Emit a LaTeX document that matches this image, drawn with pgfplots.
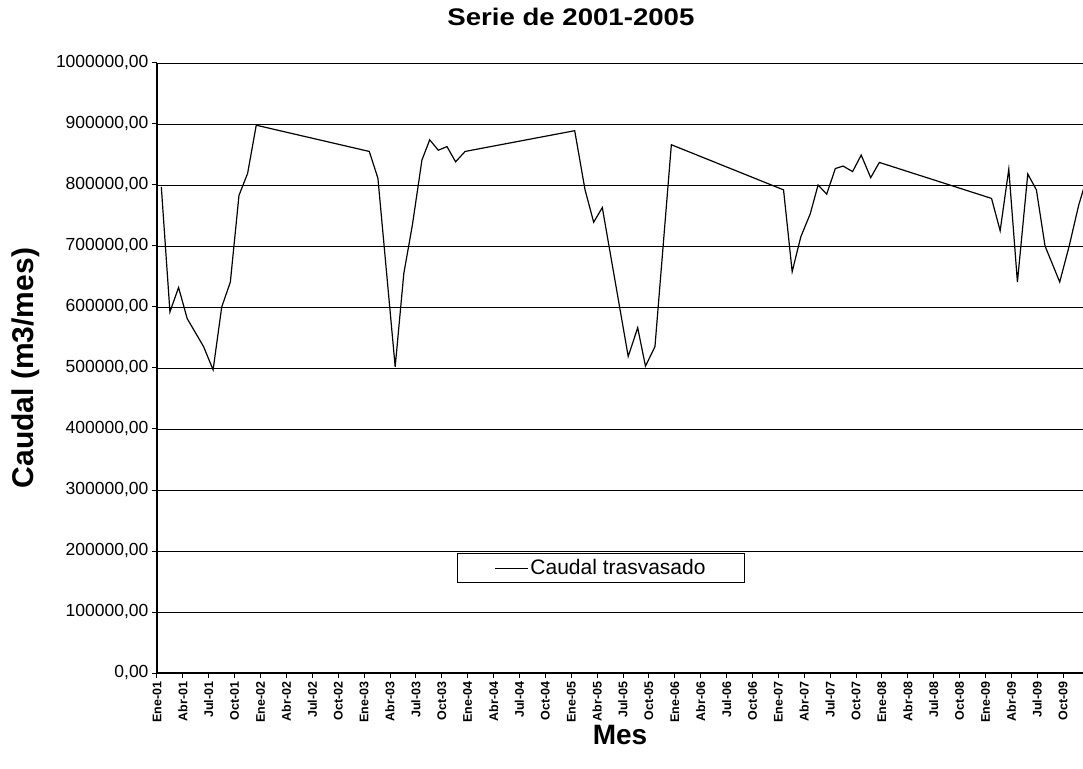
\documentclass[border=0pt]{standalone}
\usepackage{fontspec}
\setmainfont{Liberation Sans}
\usepackage{graphicx}
\usepackage{pgfplots}
\pgfplotsset{compat=1.18}
\begin{document}
\begin{tikzpicture}
\begin{axis}[
  name=ax,
  scale only axis,
  width=926pt, height=610pt,
  xmin=0, xmax=107.3,
  ymin=0, ymax=1000000,
  axis x line*=bottom, axis y line*=left,
  axis line style={black, line width=1.3pt},
  tick align=outside,
  major tick length=5pt,
  tick style={black, line width=1pt},
  xtick={0,3,...,105},
  xticklabels={Ene-01,Abr-01,Jul-01,Oct-01,Ene-02,Abr-02,Jul-02,Oct-02,Ene-03,Abr-03,Jul-03,Oct-03,Ene-04,Abr-04,Jul-04,Oct-04,Ene-05,Abr-05,Jul-05,Oct-05,Ene-06,Abr-06,Jul-06,Oct-06,Ene-07,Abr-07,Jul-07,Oct-07,Ene-08,Abr-08,Jul-08,Oct-08,Ene-09,Abr-09,Jul-09,Oct-09},
  xticklabel style={rotate=90, anchor=east, font=\fontsize{12.5}{14}\selectfont\bfseries},
  ytick={0,100000,...,1000000},
  yticklabels={{0,00},{100000,00},{200000,00},{300000,00},{400000,00},{500000,00},{600000,00},{700000,00},{800000,00},{900000,00},{1000000,00}},
  yticklabel style={font=\fontsize{17.5}{20}\selectfont},
  scaled y ticks=false,
  ymajorgrids,
  major grid style={black, line width=0.9pt},
  title={\scalebox{1.15}[1]{Serie de 2001-2005}},
  title style={at={(0.447,1)}, anchor=center, yshift=40pt, font=\fontsize{24}{28}\selectfont\bfseries},
  xlabel={Mes},
  xlabel style={at={(axis description cs:0.5,-0.1016)}, anchor=center, font=\fontsize{28}{32}\selectfont\bfseries},
  ylabel={Caudal (m3/mes)},
  ylabel style={at={(axis description cs:-0.1415,0.5)}, anchor=center, font=\fontsize{30}{34}\selectfont\bfseries},
  legend style={at={(0.4795,0.172)}, anchor=center, draw=black, line width=0.9pt, fill=white,
    font=\fontsize{21}{24}\selectfont, inner xsep=37pt, inner ysep=4pt},
  legend image code/.code={\draw[black, line width=0.9pt] (0pt,0pt) -- (33pt,0pt);},
]
\addplot[black, line width=1.2pt] coordinates {
(0.5,797000) (1.5,592000) (2.5,632000) (3.5,581000) (5.4,535000) (6.5,497000)
(7.5,600000) (8.5,641000) (9.5,783000) (10.5,819000) (11.5,898000)
(24.6,855000) (25.6,811000) (27.6,502000) (28.6,655000) (29.6,735000)
(30.7,841000) (31.6,874000) (32.6,857000) (33.6,863000) (34.6,838000) (35.7,855000)
(48.4,889000) (49.6,792000) (50.6,739000) (51.6,763000) (54.6,519000)
(55.7,566000) (56.6,503000) (57.7,535000) (59.6,866000)
(72.6,792000) (73.6,658000) (74.6,715000) (75.7,753000) (76.6,800000)
(77.6,785000) (78.6,827000) (79.5,831000) (80.6,822000) (81.6,849000)
(82.7,812000) (83.7,837000)
(96.7,778000) (97.7,725000) (98.7,826000) (99.7,641000) (100.9,818000)
(101.9,792000) (102.9,700000) (104.6,641000) (105.7,700000) (106.8,767000) (107.5,800000)
};
\addlegendentry{Caudal trasvasado}
\end{axis}
\pgfresetboundingbox
\path ([xshift=-157pt,yshift=-95pt]ax.south west) rectangle ([yshift=63pt]ax.north east);
\end{tikzpicture}
\end{document}
